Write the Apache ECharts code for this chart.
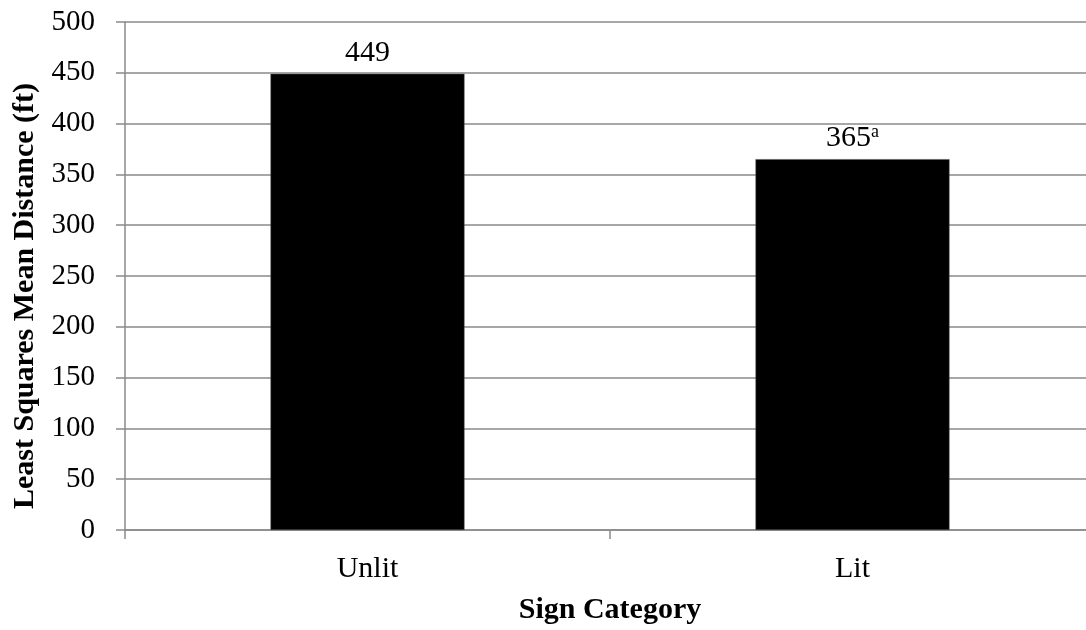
<!DOCTYPE html>
<html>
<head>
<meta charset="utf-8">
<script src="https://cdn.jsdelivr.net/npm/echarts@6/dist/echarts.min.js"></script>
<style>
  html, body { margin: 0; padding: 0; background: #fff; overflow: hidden; }
  /* plot area runs slightly past the right edge of the window */
  #chart { width: 1096px; height: 630px; }
</style>
</head>
<body>
<div id="chart"></div>
<script>
// Least squares mean sign detection distance by category
const categories = ['Unlit', 'Lit'];
const meanDistance = [449, 365];
const valueNotes = ['', 'a'];
const yTicks = [0, 50, 100, 150, 200, 250, 300, 350, 400, 450, 500];

const serif = '"Liberation Serif", "Times New Roman", serif';
const gridColor = '#8a8a8a';

const chart = echarts.init(document.getElementById('chart'));
chart.setOption({
  animation: false,
  backgroundColor: '#fff',
  grid: { left: 125, top: 22, right: 1, bottom: 100, containLabel: false, outerBoundsMode: 'none' },
  xAxis: {
    type: 'category',
    data: categories,
    name: 'Sign Category',
    nameLocation: 'middle',
    nameGap: 65,
    nameTextStyle: { fontFamily: serif, fontSize: 30, fontWeight: 'bold', color: '#000' },
    axisLine: { show: true, lineStyle: { color: gridColor, width: 1.5 } },
    axisTick: { show: true, length: 9, alignWithLabel: false, lineStyle: { color: gridColor, width: 1.5 } },
    axisLabel: { fontFamily: serif, fontSize: 30, color: '#000', margin: 24 }
  },
  yAxis: {
    type: 'value',
    min: yTicks[0],
    max: yTicks[yTicks.length - 1],
    interval: 50,
    name: 'Least Squares Mean Distance (ft)',
    nameLocation: 'middle',
    nameGap: 85,
    nameTextStyle: { fontFamily: serif, fontSize: 30, fontWeight: 'bold', color: '#000', padding: [0, 40, 0, 0] },
    axisLine: { show: true, lineStyle: { color: gridColor, width: 1.5 } },
    axisTick: { show: true, length: 9, lineStyle: { color: gridColor, width: 1.5 } },
    axisLabel: { fontFamily: serif, fontSize: 29, color: '#000', margin: 30 },
    splitLine: { show: true, lineStyle: { color: gridColor, width: 1.5 } }
  },
  series: [{
    type: 'bar',
    data: meanDistance.map((v, i) => ({ value: v, note: valueNotes[i] })),
    barWidth: '40%',
    itemStyle: { color: '#000', borderColor: '#555', borderWidth: 0.5 },
    label: {
      show: true,
      position: 'top',
      distance: 6,
      formatter: p => p.data.note ? '{v|' + p.value + '}{s|' + p.data.note + '}' : '{v|' + p.value + '}',
      rich: {
        v: { fontFamily: serif, fontSize: 30, color: '#000' },
        s: { fontFamily: serif, fontSize: 18, color: '#000', verticalAlign: 'top', padding: [0, 0, 12, 0] }
      }
    }
  }]
});
</script>
</body>
</html>
